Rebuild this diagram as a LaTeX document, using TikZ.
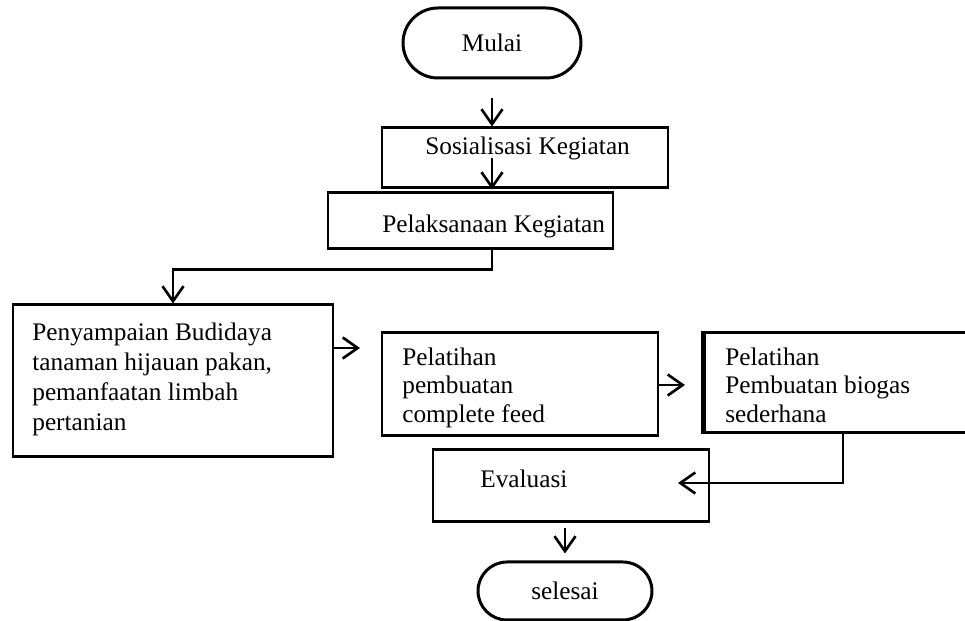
\documentclass[tikz,border=0pt]{standalone}
\usepackage{fontspec}
\setmainfont{Liberation Serif}
\usetikzlibrary{arrows.meta,positioning,shapes.misc}
\tikzset{>={Straight Barb[length=3mm,width=4.2mm]},
	box/.style={rectangle,draw=black,line width=1.7pt,inner sep=0pt},
	term/.style={rounded rectangle,draw=black,line width=1.7pt,inner sep=0pt,font=\fontsize{14.4}{16.2}\selectfont},
	txt/.style={inner sep=0pt,align=left,font=\fontsize{14.4}{16.2}\selectfont},
	flow/.style={->,line width=1.5pt}}
\begin{document}
\begin{tikzpicture}
	\clip (0,0) rectangle (19.3,12.42);
	\node (mulai) at (9.84,11.56) [term,minimum width=3.56cm,minimum height=1.4cm] {Mulai};
	\node (sos) at (10.5,9.26) [box,minimum width=5.72cm,minimum height=1.2cm] {};
	\node (pel) at (9.41,8.0) [box,minimum width=5.7cm,minimum height=1.12cm] {};
	\node (pen) at (3.46,4.8) [box,minimum width=6.4cm,minimum height=3.04cm] {};
	\node (feed) at (10.4,4.73) [box,minimum width=5.52cm,minimum height=2.06cm] {};
	\node (bio) at (16.86,4.76) [box,minimum width=5.64cm,minimum height=2.0cm] {};
	\node (eval) at (11.42,2.7) [box,minimum width=5.52cm,minimum height=1.44cm] {};
	\node (sel) at (11.3,0.6) [term,minimum width=3.48cm,minimum height=1.16cm] {selesai};
	\node (sostxt) at (8.5,9.32) [txt,anchor=base west] {Sosialisasi Kegiatan};
	\node (peltxt) at (7.64,7.76) [txt,anchor=base west] {Pelaksanaan Kegiatan};
	\node (pentxt) at (0.64,5.966) [txt,anchor=north west,font=\fontsize{14.4}{17}\selectfont] {Penyampaian Budidaya\\ tanaman hijauan pakan,\\ pemanfaatan limbah\\ pertanian};
	\node (feedtxt) at (8.04,5.47) [txt,anchor=north west] {Pelatihan\\ pembuatan\\ complete feed};
	\node (biotxt) at (14.5,5.47) [txt,anchor=north west] {Pelatihan\\ Pembuatan biogas\\ sederhana};
	\node (evaltxt) at (9.6,2.66) [txt,anchor=base west] {Evaluasi};
	% double left edge of the biogas box
	\draw [line width=1.7pt] ([xshift=0.07cm]bio.north west) -- ([xshift=0.07cm]bio.south west);
	\coordinate (p1) at (7.2,5.46);
	\coordinate (p2) at (13.7,4.72);
	\coordinate (p3) at (13.56,2.76);
	\draw [flow,shorten <=0.38cm] (mulai.south) -- (mulai.south |- sos.north);
	\draw [flow] (sos.center -| mulai.south) -- (sos.south -| mulai.south);
	\draw [flow] (pel.south -| mulai.south) -- ++(0,-0.38) -| (pen.north);
	\draw [flow] (pen.east |- p1) -- (p1);
	\draw [flow] (feed.east |- p2) -- (p2);
	\draw [flow] (bio.south) |- (p3);
	\draw [flow,shorten <=0.1cm,shorten >=0.14cm] (eval.south -| sel.north) -- (sel.north);
\end{tikzpicture}
\end{document}
